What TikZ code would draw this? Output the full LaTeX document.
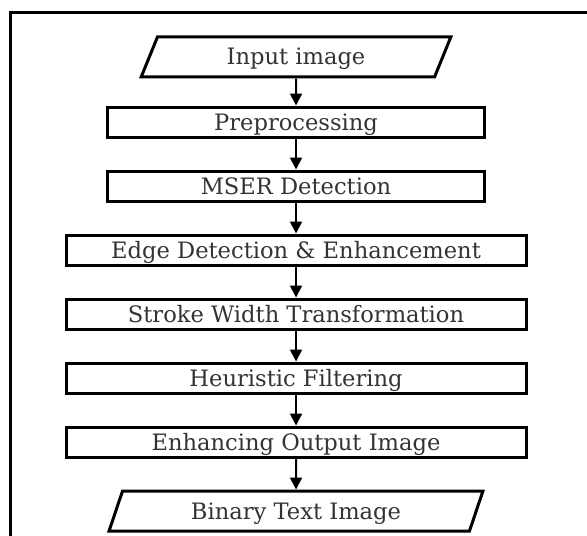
\documentclass[tikz,border=0pt]{standalone}
\usepackage{fontspec}
\setmainfont{DejaVu Serif}
\usetikzlibrary{positioning, shapes.geometric, arrows.meta}

\tikzset{
  procbox/.style={draw, line width=1.5pt, minimum height=15pt, inner sep=0pt, text height=8pt, text depth=0pt},
  iobox/.style={draw, line width=1.5pt, trapezium, trapezium left angle=63, trapezium right angle=117,
    trapezium stretches=true, minimum height=20pt, inner sep=0pt, text height=8pt, text depth=0pt},
  flow/.style={-{Triangle[width=6pt, length=6pt]}, line width=1pt},
}

\begin{document}
\begin{tikzpicture}[x=0.5pt, y=-0.5pt, every node/.style={font=\fontsize{11.3}{13}\selectfont, text=black!80}, node distance=15.5pt]
  \useasboundingbox (0,0) rectangle (587,535);

  % outer frame, cut off at the right and bottom
  \coordinate (framebl) at (10,540);
  \coordinate (frametl) at (10,13);
  \coordinate (frametr) at (592,13);
  \draw[line width=1.5pt] (framebl) -- (frametl) -- (frametr);

  \node[iobox, minimum width=156pt] (input) at (296,57) {Input image};
  \node[procbox, minimum width=188.5pt, below=13.5pt of input] (prep) {Preprocessing};
  \node[procbox, minimum width=188.5pt, below=of prep] (mser) {MSER Detection};
  \node[procbox, minimum width=230pt, below=of mser] (edge) {Edge Detection \& Enhancement};
  \node[procbox, minimum width=230pt, below=of edge] (swt) {Stroke Width Transformation};
  \node[procbox, minimum width=230pt, below=of swt] (heur) {Heuristic Filtering};
  \node[procbox, minimum width=230pt, below=of heur] (enh) {Enhancing Output Image};
  \node[iobox, minimum width=187pt, below=of enh] (binary) {Binary Text Image};

  \draw[flow] (input) -- (prep);
  \draw[flow] (prep) -- (mser);
  \draw[flow] (mser) -- (edge);
  \draw[flow] (edge) -- (swt);
  \draw[flow] (swt) -- (heur);
  \draw[flow] (heur) -- (enh);
  \draw[flow] (enh) -- (binary);
\end{tikzpicture}
\end{document}
